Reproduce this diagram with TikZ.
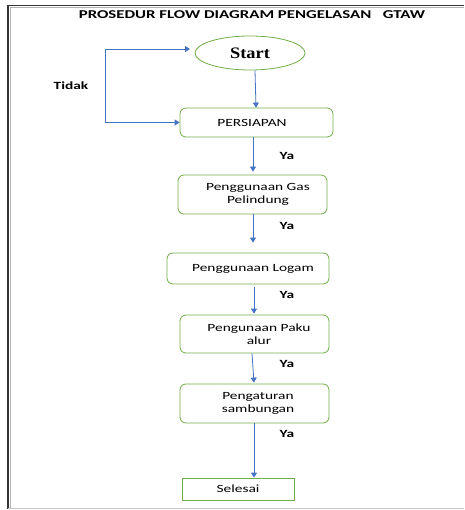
\documentclass[tikz,border=0pt]{standalone}
\usepackage{fontspec}
\usepackage{graphicx}
\setmainfont{Carlito}
\newfontfamily\startfont{Liberation Serif}
\usetikzlibrary{shapes.geometric,arrows.meta}
\definecolor{boxgreen}{HTML}{70AD47}
\definecolor{arrblue}{HTML}{4472C4}
\newcommand{\sx}[1]{\scalebox{1.4}[1]{#1}}
\newcommand{\shiftr}[2]{\hspace*{#1}\sx{#2}}
\tikzset{
  procbox/.style={draw=boxgreen, line width=0.8pt, rounded corners=6pt, inner sep=0pt, align=center, font=\fontsize{11}{13}\selectfont},
  endbox/.style={draw=boxgreen, line width=0.8pt, inner sep=0pt, align=center, font=\fontsize{11}{13}\selectfont},
  arr/.style={draw=arrblue, line width=0.8pt, -{Triangle[width=6pt,length=5pt]}},
  lbl/.style={font=\bfseries\fontsize{11}{13}\selectfont, inner sep=0pt},
}
\begin{document}
\begin{tikzpicture}[x=1pt,y=-1pt]
\useasboundingbox (0,0) rectangle (464,510);
% frame
\draw[black!80, line width=1.5pt] (8,509) -- (8,5.5) -- (464,5.5);
\draw[gray!60, line width=1.2pt] (10.5,509) -- (10.5,7.8) -- (464,7.8);
\draw[gray!45, line width=1.2pt] (8,508.5) -- (464,508.5);
% title
\node[inner sep=0pt, font=\bfseries\fontsize{12}{14}\selectfont] (title) at (252,15) {\sx{PROSEDUR FLOW DIAGRAM PENGELASAN \ \ GTAW}};
% nodes
\node[ellipse, draw=boxgreen, line width=0.8pt, minimum width=110pt, minimum height=34pt, inner sep=0pt, font=\startfont\bfseries\fontsize{16}{18}\selectfont] (start) at (250,53) {\scalebox{1.15}[1]{Start}};
\node[procbox, minimum width=153pt, minimum height=29pt] (persiapan) at (256.5,122.5) {\sx{PERSIAPAN}\hspace*{9pt}};
\node[procbox, minimum width=149pt, minimum height=39pt] (gas) at (252.5,194.5) {\shiftr{11pt}{Penggunaan Gas}\\\shiftr{11pt}{Pelindung}};
\node[procbox, minimum width=162pt, minimum height=31pt] (logam) at (248,268.5) {\shiftr{10pt}{Penggunaan Logam}};
\node[procbox, minimum width=149pt, minimum height=38pt] (paku) at (254.5,334) {\shiftr{9pt}{Pengunaan Paku}\\\shiftr{9pt}{alur}};
\node[procbox, minimum width=149pt, minimum height=39pt] (samb) at (254.5,403.5) {\shiftr{7pt}{Pengaturan}\\\shiftr{7pt}{sambungan}};
\node[endbox, minimum width=112pt, minimum height=22pt] (selesai) at (238,489) {\sx{Selesai}};
% loop coordinates
\coordinate (lt) at (105,49);
\coordinate (lb) at (105,122.5);
\coordinate (tip) at (190,49);
% connectors
\draw[arr] ([xshift=5pt]start.south) -- ([xshift=-0.5pt]persiapan.north);
\draw[arr] (lb) -- (lt) -- (tip);
\draw[arr] (lb) -- (persiapan.west);
\draw[arr] ([xshift=-3.5pt]persiapan.south) -- ([xshift=0.5pt,yshift=3pt]gas.north);
\draw[arr] ([xshift=0.5pt]gas.south) -- ([xshift=5pt,yshift=10pt]logam.north);
\draw[arr] ([xshift=6pt,yshift=-3pt]logam.south) -- ([xshift=-0.5pt,yshift=1pt]paku.north);
\draw[arr] ([xshift=-2.5pt]paku.south) -- ([xshift=-0.5pt,yshift=1pt]samb.north);
\draw[arr] ([xshift=-0.5pt]samb.south) -- ([xshift=16pt]selesai.north);
% labels
\node[lbl] (tidak) at (71,86) {\sx{Tidak}};
\node[lbl] (ya1) at (287,156) {\sx{Ya}};
\node[lbl] (ya2) at (287,226) {\sx{Ya}};
\node[lbl] (ya3) at (287,295) {\sx{Ya}};
\node[lbl] (ya4) at (287,364) {\sx{Ya}};
\node[lbl] (ya5) at (287,434) {\sx{Ya}};
\end{tikzpicture}
\end{document}
